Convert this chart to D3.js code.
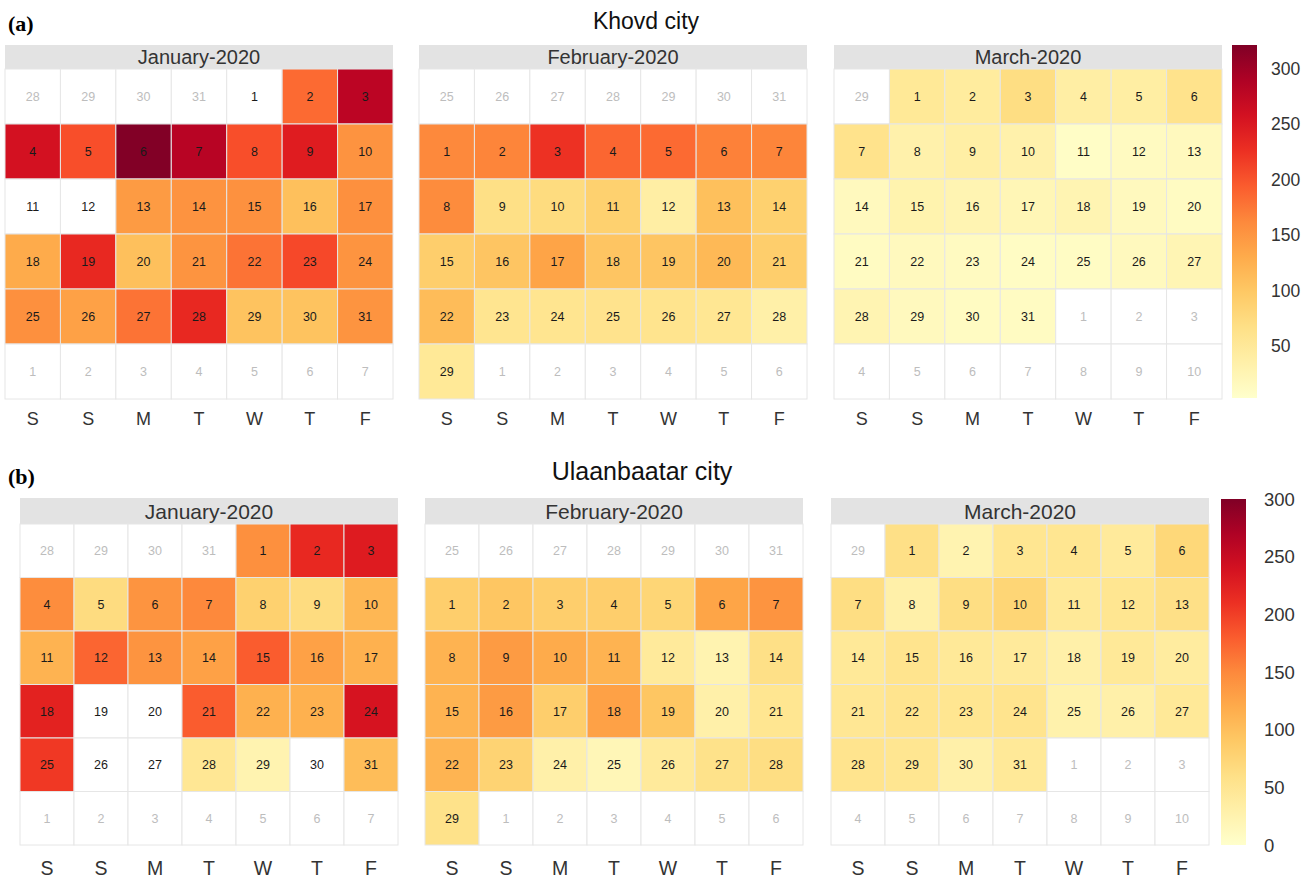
<!DOCTYPE html>
<html>
<head>
<meta charset="utf-8">
<script src="https://cdn.jsdelivr.net/npm/d3@7"></script>
<style>
  body { margin: 0; background: #fff; }
  text { font-family: "Liberation Sans", Arial, sans-serif; }
</style>
</head>
<body>
<div id="chart"></div>
<script>
// daily values per month (null = no data)
var months = ["January-2020", "February-2020", "March-2020"];
var weekDays = ["S", "S", "M", "T", "W", "T", "F"];

var khovdJan = [null, 184, 279, 257, 203, 320, 282, 203, 244, 153,
    null, null, 146, 153, 155, 108, 156, 130, 232, 108,
    152, 178, 207, 152, 156, 140, 178, 232, 105, 105, 152];
var khovdFeb = [162, 165, 225, 187, 184, 168, 165, 159, 67, 74,
    89, 39, 108, 89, 92, 102, 137, 102, 102, 115,
    92, 112, 58, 58, 61, 60, 55, 36, 51];
var khovdMar = [51, 45, 70, 39, 40, 62, 62, 33, 38, 33,
    8, 13, 16, 16, 30, 27, 23, 27, 16, 12,
    12, 16, 13, 10, 10, 16, 25, 27, 16, 12, 12];

var ubJan = [144, 216, 228, 147, 66, 141, 150, 81, 66, 108,
    112, 174, 141, 129, 180, 129, 114, 222, null, null,
    180, 114, 114, 237, 204, null, null, 48, 24, null, 102];
var ubFeb = [84, 93, 84, 84, 75, 126, 141, 112, 135, 120,
    112, 42, 24, 60, 112, 135, 84, 129, 93, 30,
    51, 111, 78, 30, 18, 42, 57, 63, 57];
var ubMar = [60, 24, 51, 51, 42, 72, 63, 30, 63, 75,
    45, 51, 60, 45, 54, 45, 42, 30, 45, 39,
    48, 54, 51, 54, 27, 30, 45, 54, 51, 30, 45];

var khovdDomain = [3, 321];
var ubDomain = [0, 300];
var legendTicks = [0, 50, 100, 150, 200, 250, 300];

var width = 1315, height = 879;
var svg = d3.select("#chart").append("svg")
    .attr("width", width)
    .attr("height", height);

// 6x7 grid of dates; week starts Saturday, always at least one day of the previous month
function monthCells(monthIndex, values) {
    var first = new Date(2020, monthIndex, 1);
    var offset = (first.getDay() + 1) % 7;
    if (offset == 0) offset = 7;
    var cells = [];
    for (var i = 0; i < 42; i++) {
        var d = new Date(2020, monthIndex, 1 - offset + i);
        var inMonth = d.getMonth() == monthIndex;
        cells.push({
            col: i % 7,
            row: Math.floor(i / 7),
            day: d.getDate(),
            inMonth: inMonth,
            value: inMonth ? values[d.getDate() - 1] : null
        });
    }
    return cells;
}

function drawCity(cfg) {
    var color = d3.scaleSequential(d3.interpolateYlOrRd).domain(cfg.domain);

    svg.append("text")
        .attr("x", cfg.titleX).attr("y", cfg.titleY)
        .attr("text-anchor", "middle")
        .style("font-size", cfg.titleSize + "px").attr("fill", "#111")
        .text(cfg.title);

    svg.append("text")
        .attr("x", 8).attr("y", cfg.tagY)
        .style("font-family", "'Liberation Serif', 'Times New Roman', serif")
        .style("font-size", "22px").style("font-weight", "bold")
        .text(cfg.tag);

    cfg.data.forEach(function (values, m) {
        var x0 = cfg.panelX[m];
        var x = d3.scaleBand().domain(d3.range(7)).range([x0, x0 + cfg.panelW]);
        var y = d3.scaleBand().domain(d3.range(6)).range([cfg.gridTop, cfg.gridBottom]);
        var g = svg.append("g");

        g.append("rect")
            .attr("x", x0).attr("y", cfg.headTop)
            .attr("width", cfg.panelW).attr("height", cfg.gridTop - cfg.headTop)
            .attr("fill", "#e3e3e3");
        g.append("text")
            .attr("x", x0 + cfg.panelW / 2)
            .attr("y", (cfg.headTop + cfg.gridTop) / 2 + cfg.headSize * 0.36)
            .attr("text-anchor", "middle")
            .style("font-size", cfg.headSize + "px").attr("fill", "#333")
            .text(months[m]);

        var cells = monthCells(m, values);
        g.selectAll("rect.cell").data(cells).enter().append("rect")
            .attr("class", "cell")
            .attr("x", function (d) { return x(d.col); })
            .attr("y", function (d) { return y(d.row); })
            .attr("width", x.bandwidth())
            .attr("height", y.bandwidth())
            .attr("fill", function (d) { return d.value == null ? "#fff" : color(d.value); })
            .attr("stroke", "#e6e6e6")
            .attr("stroke-width", 1);

        g.selectAll("text.day").data(cells).enter().append("text")
            .attr("class", "day")
            .attr("x", function (d) { return x(d.col) + x.bandwidth() / 2; })
            .attr("y", function (d) { return y(d.row) + y.bandwidth() / 2 + 4.5; })
            .attr("text-anchor", "middle")
            .style("font-size", "12.5px")
            .attr("fill", function (d) { return d.inMonth ? "#1a1a1a" : "#bdbdbd"; })
            .text(function (d) { return d.day; });

        g.selectAll("text.wd").data(weekDays).enter().append("text")
            .attr("class", "wd")
            .attr("x", function (d, i) { return x(i) + x.bandwidth() / 2; })
            .attr("y", cfg.wdY)
            .attr("text-anchor", "middle")
            .style("font-size", cfg.wdSize + "px").attr("fill", "#333")
            .text(function (d) { return d; });
    });

    // colour bar legend
    var defs = svg.append("defs");
    var gradId = "grad-" + cfg.tag.replace(/\W/g, "");
    var grad = defs.append("linearGradient").attr("id", gradId)
        .attr("x1", 0).attr("y1", 1).attr("x2", 0).attr("y2", 0);
    d3.range(0, 1.0001, 0.1).forEach(function (t) {
        grad.append("stop").attr("offset", t)
            .attr("stop-color", d3.interpolateYlOrRd(t));
    });
    svg.append("rect")
        .attr("x", cfg.legendX).attr("y", cfg.legendTop)
        .attr("width", 25).attr("height", cfg.legendBottom - cfg.legendTop)
        .attr("fill", "url(#" + gradId + ")");

    var ly = d3.scaleLinear().domain(cfg.domain).range([cfg.legendBottom, cfg.legendTop]);
    var ticks = legendTicks.filter(function (t) { return t >= cfg.domain[0] && t <= cfg.domain[1]; });
    svg.selectAll(null).data(ticks).enter().append("text")
        .attr("x", cfg.legendLabelX)
        .attr("y", function (d) { return ly(d) + cfg.legendSize * 0.36; })
        .style("font-size", cfg.legendSize + "px").attr("fill", "#333")
        .text(function (d) { return d; });
}

drawCity({
    title: "Khovd city", tag: "(a)", titleX: 646, titleY: 29, tagY: 31, titleSize: 23,
    data: [khovdJan, khovdFeb, khovdMar], domain: khovdDomain,
    panelX: [5, 419, 834], panelW: 388,
    headTop: 45, gridTop: 69, gridBottom: 399, wdY: 425,
    headSize: 20, wdSize: 18, legendSize: 17.5,
    legendX: 1232, legendTop: 45, legendBottom: 398, legendLabelX: 1271
});

drawCity({
    title: "Ulaanbaatar city", tag: "(b)", titleX: 642, titleY: 480, tagY: 484, titleSize: 25,
    data: [ubJan, ubFeb, ubMar], domain: ubDomain,
    panelX: [20, 425, 831], panelW: 378,
    headTop: 498, gridTop: 524, gridBottom: 845, wdY: 875,
    headSize: 21, wdSize: 19.5, legendSize: 18.5,
    legendX: 1221, legendTop: 499, legendBottom: 845, legendLabelX: 1264
});
</script>
</body>
</html>
